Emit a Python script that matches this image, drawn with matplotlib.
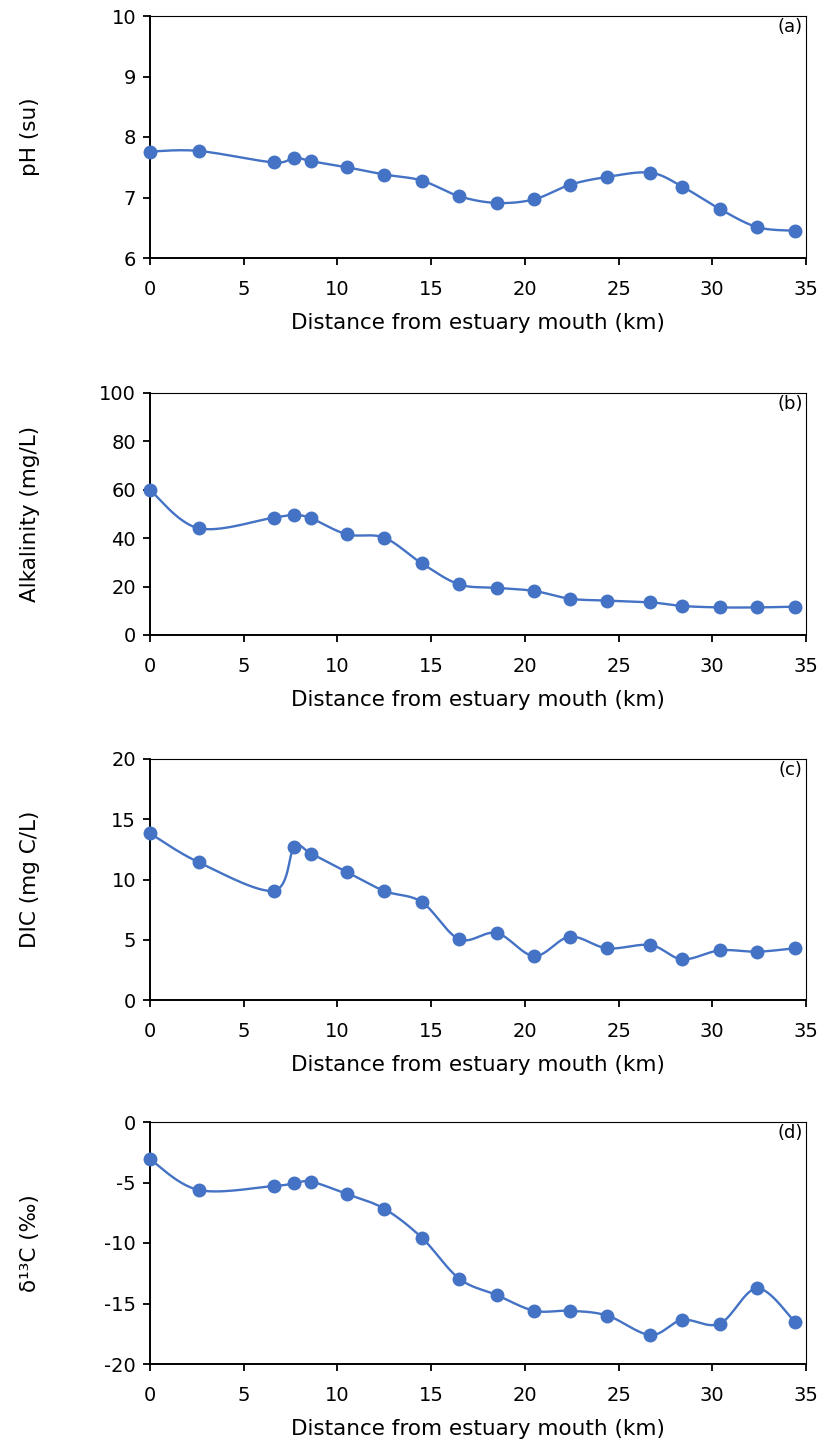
import numpy as np
import matplotlib
matplotlib.use("Agg")
import matplotlib.pyplot as plt

plt.rcParams['font.family'] = ['DejaVu Sans']
plt.rcParams['axes.unicode_minus'] = False

# distance of each station from the estuary mouth (km)
distance = [0, 2.6, 6.6, 7.7, 8.6, 10.5, 12.5, 14.5, 16.5, 18.5,
            20.5, 22.4, 24.4, 26.7, 28.4, 30.4, 32.4, 34.4]

ph = [7.76, 7.77, 7.58, 7.66, 7.60, 7.50, 7.38, 7.28, 7.02, 6.91,
      6.97, 7.21, 7.34, 7.41, 7.18, 6.81, 6.51, 6.45]
alkalinity = [59.9, 44.1, 48.5, 49.6, 48.2, 41.6, 40.2, 29.6, 20.9, 19.5,
              18.2, 15.0, 14.2, 13.5, 12.0, 11.4, 11.4, 11.7]
dic = [13.83, 11.43, 9.07, 12.67, 12.14, 10.62, 9.05, 8.13, 5.04, 5.56,
       3.65, 5.25, 4.29, 4.56, 3.38, 4.12, 4.01, 4.29]
d13c = [-3.08, -5.62, -5.29, -5.07, -4.93, -5.95, -7.17, -9.56, -12.95, -14.3,
        -15.6, -15.6, -16.0, -17.6, -16.36, -16.67, -13.74, -16.5]

panels = [
    (ph, "pH (su)", (6, 10), [6, 7, 8, 9, 10], "(a)"),
    (alkalinity, "Alkalinity (mg/L)", (0, 100), [0, 20, 40, 60, 80, 100], "(b)"),
    (dic, "DIC (mg C/L)", (0, 20), [0, 5, 10, 15, 20], "(c)"),
    (d13c, "δ¹³C (‰)", (-20, 0), [-20, -15, -10, -5, 0], "(d)"),
]

# pixel extents (top, bottom) of each plot area
W, H = 822, 1448
boxes = [(16, 258), (393, 635), (759, 1000), (1122, 1364)]
left_px, right_px = 150, 806

blue = "#4472C4"


def smooth(x, y, n=30):
    # Excel-style smoothed line: cubic Bezier through the points
    x = np.asarray(x, float)
    y = np.asarray(y, float)
    px = np.concatenate([[x[0]], x, [x[-1]]])
    py = np.concatenate([[y[0]], y, [y[-1]]])
    t = np.linspace(0, 1, n)[:, None]
    xs, ys = [], []
    for i in range(1, len(px) - 2):
        p0 = np.array([px[i], py[i]])
        p3 = np.array([px[i + 1], py[i + 1]])
        c1 = p0 + (np.array([px[i + 1], py[i + 1]]) - np.array([px[i - 1], py[i - 1]])) / 6
        c2 = p3 - (np.array([px[i + 2], py[i + 2]]) - np.array([px[i], py[i]])) / 6
        pts = ((1 - t) ** 3) * p0 + 3 * ((1 - t) ** 2) * t * c1 + 3 * (1 - t) * t ** 2 * c2 + t ** 3 * p3
        xs.append(pts[:, 0])
        ys.append(pts[:, 1])
    return np.concatenate(xs), np.concatenate(ys)


fig = plt.figure(figsize=(W / 100, H / 100), dpi=100)

for (vals, ylabel, ylim, yticks, tag), (top, bot) in zip(panels, boxes):
    ax = fig.add_axes([left_px / W, 1 - bot / H, (right_px - left_px) / W, (bot - top) / H])
    sx, sy = smooth(distance, vals)
    ax.plot(sx, sy, color=blue, lw=1.7, clip_on=False, zorder=2)
    ax.plot(distance, vals, 'o', color=blue, ms=9, clip_on=False, zorder=3)

    ax.set_xlim(0, 35)
    ax.set_ylim(*ylim)
    ax.set_xticks([0, 5, 10, 15, 20, 25, 30, 35])
    ax.set_yticks(yticks)
    ax.tick_params(axis='both', direction='out', length=5, width=1.3, labelsize=14, colors='black')
    ax.tick_params(axis='x', pad=11)
    ax.tick_params(axis='y', pad=5)

    for side in ['left', 'bottom']:
        ax.spines[side].set_linewidth(1.4)
    for side in ['top', 'right']:
        ax.spines[side].set_linewidth(0.8)

    ax.set_xlabel("Distance from estuary mouth (km)", fontsize=15.5, labelpad=10)
    ax.set_ylabel(ylabel, fontsize=15.5)
    ax.yaxis.set_label_coords(-0.168, 0.5)
    ax.text(0.995, 0.993, tag, transform=ax.transAxes, ha='right', va='top', fontsize=13)

fig.savefig("out.png", dpi=100)
